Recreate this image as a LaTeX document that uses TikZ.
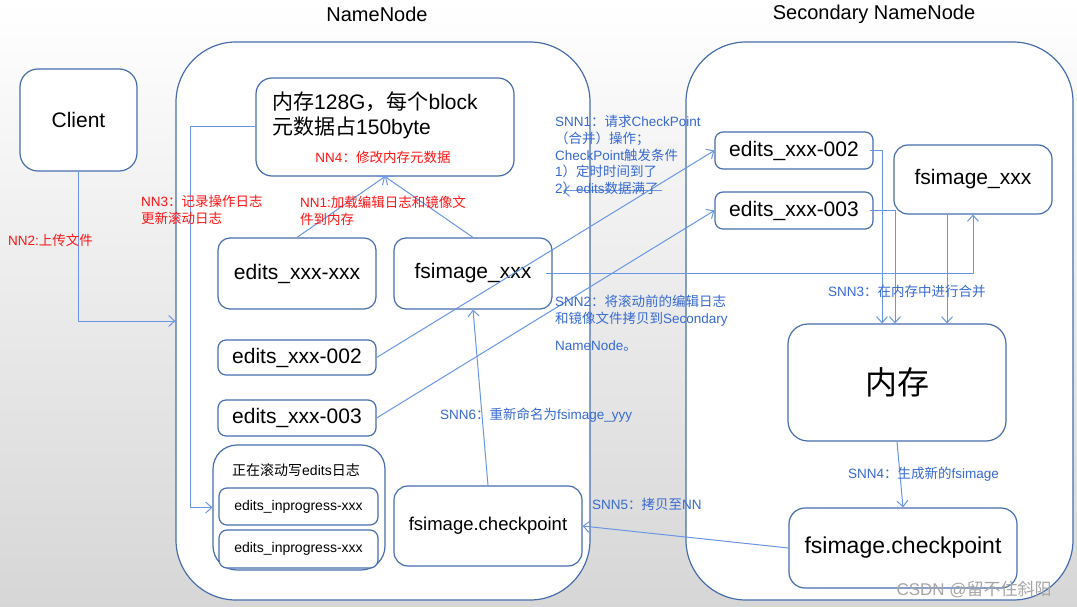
\documentclass[tikz,border=0pt]{standalone}
\usepackage{fontspec}
\setmainfont{Liberation Sans}
\newfontfamily\cjk{Noto Sans CJK SC}
\newcommand{\zh}[1]{{\cjk #1}}
\usepackage{tikz}
\usetikzlibrary{positioning,calc,arrows.meta}

\definecolor{boxline}{RGB}{72,110,175}
\definecolor{arrowblue}{RGB}{105,150,228}
\definecolor{lblblue}{RGB}{55,105,210}
\definecolor{lblred}{RGB}{255,20,20}

\tikzset{
  container/.style={draw=boxline, line width=1.2pt, fill=white, rounded corners=60pt, inner sep=0pt},
  box/.style={draw=boxline, line width=1.2pt, fill=white, rounded corners=12pt, inner sep=0pt},
  bigtext/.style={font=\fontsize{21}{25}\selectfont},
  titletext/.style={font=\fontsize{20}{24}\selectfont},
  lbl/.style={font=\fontsize{13.5}{17}\selectfont, align=left, inner sep=0pt},
  arr/.style={draw=arrowblue, line width=1pt, -{Straight Barb[length=6pt,width=11pt]}}
}

\begin{document}
\begin{tikzpicture}[x=1pt,y=-1pt]
        % Background and frame
        \useasboundingbox (0,0) rectangle (1077,607);
        \shade[top color=white, bottom color=black!16] (0,0) rectangle (1077,607);

        % Titles
        \node[titletext] (nntitle) at (377,14) {NameNode};
        \node[titletext] (snntitle) at (874,14) {Secondary NameNode};

        % The two containers
        \node[container, minimum width=414pt, minimum height=558pt] (nn) at (383,321) {};
        \node[container, minimum width=387pt, minimum height=558pt] (snn) at (879.5,321) {};

        % Client
        \node[box, rounded corners=18pt, bigtext, minimum width=117pt, minimum height=102pt] (client) at (78.5,120) {Client};

        % NameNode boxes
        \node[box, rounded corners=16pt, minimum width=258pt, minimum height=98pt] (mem) at (385,127) {};
        \node[bigtext, anchor=west, align=left, inner sep=0pt] (memtext) at (272,115)
            {\zh{内存}128G\zh{，每个}block\\\zh{元数据占}150byte};
        \node[lbl, text=lblred] (nn4) at (383,157) {NN4\zh{：修改内存元数据}};

        \node[box, bigtext, minimum width=158pt, minimum height=71pt] (exx) at (297,273.5) {edits\_xxx-xxx};
        \node[box, bigtext, minimum width=158pt, minimum height=71pt] (fsi) at (473,273.5) {fsimage\_xxx};
        \node[box, rounded corners=8pt, bigtext, minimum width=158pt, minimum height=35pt] (e002) at (297,357.5) {edits\_xxx-002};
        \node[box, rounded corners=8pt, bigtext, minimum width=158pt, minimum height=36pt] (e003) at (297,418) {edits\_xxx-003};

        % Rolling edits group
        \node[box, rounded corners=24pt, minimum width=172pt, minimum height=125pt] (roll) at (299,507.5) {};
        \node[font=\fontsize{14}{17}\selectfont] (rolltitle) at (296,470) {\zh{正在滚动写}edits\zh{日志}};
        \node[box, rounded corners=8pt, font=\fontsize{14}{17}\selectfont, minimum width=159pt, minimum height=37pt] (ip1) at (298.5,506.5) {edits\_inprogress-xxx};
        \node[box, rounded corners=8pt, font=\fontsize{14}{17}\selectfont, minimum width=159pt, minimum height=38pt] (ip2) at (298.5,549) {edits\_inprogress-xxx};

        \node[box, rounded corners=14pt, font=\fontsize{18.5}{22}\selectfont, minimum width=188pt, minimum height=80pt] (ckpt) at (488,526) {fsimage.checkpoint};

        % Secondary NameNode boxes
        \node[box, rounded corners=8pt, bigtext, minimum width=158pt, minimum height=37pt] (se002) at (794,150.5) {edits\_xxx-002};
        \node[box, rounded corners=8pt, bigtext, minimum width=158pt, minimum height=37pt] (se003) at (794,210.5) {edits\_xxx-003};
        \node[box, rounded corners=14pt, bigtext, minimum width=158pt, minimum height=69pt] (sfsi) at (973,179.5) {fsimage\_xxx};
        \node[box, rounded corners=20pt, font=\fontsize{32}{38}\selectfont\cjk, minimum width=218pt, minimum height=117pt] (smem) at (897,382.5) {内存};
        \node[box, rounded corners=16pt, font=\fontsize{23}{27}\selectfont, minimum width=228pt, minimum height=80pt] (sckpt) at (903,548) {fsimage.checkpoint};

        % NameNode connectors
        \draw[arr] (client.south) |- (nn.west);
        \draw[arr] (mem.west) -- ++(-65,0) |- (roll.west);
        \draw[arr] (exx.north) -- (mem.south);
        \draw[arr] (fsi.north) -- (mem.south);
        \draw[arr] (ckpt.north) -- (fsi.south);

        % Copies to and from the Secondary NameNode
        \draw[arr] (e002.east) -- (se002.west);
        \draw[arr] (e003.east) -- (se003.west);
        \draw[arr] ([xshift=-7pt]fsi.east) -| (sfsi.south);
        \draw[arr] (sckpt.west) -- (ckpt.east);

        % Merge in the Secondary NameNode
        \draw[arr] ([xshift=-4pt]se002.east) -| ([xshift=-15pt]smem.north);
        \draw[arr] ([xshift=-4pt]se003.east) -| ([xshift=-2pt]smem.north);
        \draw[arr] ([xshift=-26pt]sfsi.south) -- ([xshift=50pt]smem.north);
        \draw[arr] (smem.south) -- (sckpt.north);

        % Short arrow over the SNN1 text
        \coordinate (stubR) at (662,191);
        \coordinate (stubL) at (563,191);
        \draw[arr] (stubR) -- (stubL);

        % Step labels (red: NameNode, blue: Secondary NameNode)
        \node[lbl, text=lblred, anchor=west] (nn2) at (8,240) {NN2:\zh{上传文件}};
        \node[lbl, text=lblred, anchor=north west] (nn3) at (141,195) {NN3\zh{：记录操作日志}\\\zh{更新滚动日志}};
        \node[lbl, text=lblred, anchor=north west] (nn1) at (300,196) {NN1:\zh{加载编辑日志和镜像文}\\\zh{件到内存}};

        \node[lbl, text=lblblue, anchor=north west, font=\fontsize{13.5}{16.8}\selectfont] (snn1) at (555,115)
            {SNN1\zh{：请求}CheckPoint\\\zh{（合并）操作；}\\CheckPoint\zh{触发条件}\\1\zh{）定时时间到了}\\2\zh{）}edits\zh{数据满了}};
        \node[lbl, text=lblblue, anchor=north west] (snn2) at (555,295)
            {SNN2\zh{：将滚动前的编辑日志}\\\zh{和镜像文件拷贝到}Secondary\\[10pt]NameNode\zh{。}};
        \node[lbl, text=lblblue, anchor=west] (snn3) at (828,291) {SNN3\zh{：在内存中进行合并}};
        \node[lbl, text=lblblue, anchor=west] (snn4) at (848,474) {SNN4\zh{：生成新的}fsimage};
        \node[lbl, text=lblblue, anchor=west] (snn5) at (592,504) {SNN5\zh{：拷贝至}NN};
        \node[lbl, text=lblblue, anchor=west] (snn6) at (440,415) {SNN6\zh{：重新命名为}fsimage\_yyy};

        % Watermark
        \node[anchor=west, text=black!35, font=\fontsize{17}{20}\selectfont] (mark) at (893,589) {CSDN @\zh{留不住斜阳}};
    \end{tikzpicture}
\end{document}
